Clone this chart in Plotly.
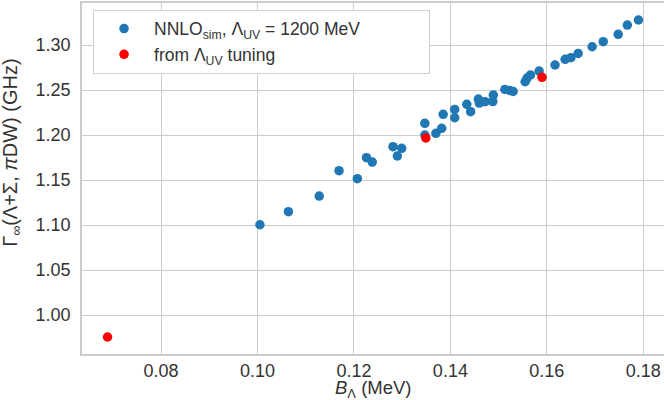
import plotly.graph_objects as go

# NNLO_sim points
b_sim = [0.1005, 0.1064, 0.1128, 0.1169, 0.1207, 0.1226, 0.1238, 0.1281, 0.1290, 0.1299,
         0.1347, 0.1347, 0.1370, 0.1382, 0.1385, 0.1409, 0.1409, 0.1434, 0.1442, 0.1458,
         0.1460, 0.1472, 0.1489, 0.1488, 0.1513, 0.1523, 0.1530, 0.1555, 0.1559, 0.1566,
         0.1584, 0.1617, 0.1638, 0.1650, 0.1665, 0.1694, 0.1717, 0.1748, 0.1767, 0.1790]
g_sim = [1.1003, 1.1148, 1.1322, 1.1604, 1.1515, 1.1748, 1.1700, 1.1870, 1.1767, 1.1852,
         1.2130, 1.2000, 1.2019, 1.2074, 1.2230, 1.2285, 1.2192, 1.2341, 1.2259, 1.2400,
         1.2355, 1.2370, 1.2444, 1.2372, 1.2507, 1.2495, 1.2484, 1.2592, 1.2633, 1.2667,
         1.2711, 1.2778, 1.2841, 1.2859, 1.2907, 1.2981, 1.3037, 1.3119, 1.3222, 1.3278]

# from Lambda_UV tuning
b_tune = [0.0689, 0.1349, 0.1590]
g_tune = [0.9756, 1.1967, 1.2641]

x_ticks = [0.08, 0.10, 0.12, 0.14, 0.16, 0.18]
y_ticks = [1.00, 1.05, 1.10, 1.15, 1.20, 1.25, 1.30]

FONT = "Liberation Sans, Arial, sans-serif"
TXT = "#333333"
GRID = "#cccccc"

fig = go.Figure()
fig.add_trace(go.Scatter(
    x=b_sim, y=g_sim, mode="markers",
    marker=dict(color="#1f77b4", size=9.5, line=dict(width=0)),
    name="NNLO<sub>sim</sub>, Λ<sub>UV</sub> = 1200 MeV" + "\u00a0" * 13))
fig.add_trace(go.Scatter(
    x=b_tune, y=g_tune, mode="markers",
    marker=dict(color="#ff0000", size=9.5, line=dict(width=0)),
    name="from Λ<sub>UV</sub> tuning"))

fig.update_layout(
    width=664, height=400,
    margin=dict(l=82, r=0, t=3, b=46, autoexpand=False),
    paper_bgcolor="white", plot_bgcolor="white",
    font=dict(family=FONT, size=18, color=TXT),
    showlegend=True,
    legend=dict(
        x=0.019, y=0.981, xanchor="left", yanchor="top",
        bgcolor="white", bordercolor="#d0d0d0", borderwidth=1,
        font=dict(family=FONT, size=17.5, color=TXT),
        itemwidth=50, tracegroupgap=0,
    ),
    annotations=[
        dict(text="Γ<sub>∞</sub>(Λ+Σ, <i>π</i>DW) (GHz)",
             xref="paper", yref="paper", x=-0.1203, y=0.573,
             xanchor="center", yanchor="middle", textangle=-90,
             showarrow=False, font=dict(family=FONT, size=20, color=TXT)),
        dict(text="<i>B</i><sub>Λ</sub> (MeV)",
             xref="paper", yref="paper", x=0.5, y=-0.100,
             xanchor="center", yanchor="middle",
             showarrow=False, font=dict(family=FONT, size=18.5, color=TXT)),
    ],
)
fig.update_xaxes(
    range=[0.0636, 0.1843],
    tickvals=x_ticks, ticktext=[f"{v:.2f}" for v in x_ticks],
    showgrid=True, gridcolor=GRID, gridwidth=1,
    showline=True, linecolor=GRID, linewidth=1.5, mirror=True,
    zeroline=False, ticks="", ticklen=0, ticklabelstandoff=0,
    automargin=False,
    tickfont=dict(family=FONT, size=18, color=TXT),
)
fig.update_yaxes(
    range=[0.9567, 1.3467],
    tickvals=y_ticks, ticktext=[f"{v:.2f}" for v in y_ticks],
    showgrid=True, gridcolor=GRID, gridwidth=1,
    showline=True, linecolor=GRID, linewidth=1.5, mirror=True,
    zeroline=False, ticks="", ticklen=0, ticklabelstandoff=6,
    automargin=False,
    tickfont=dict(family=FONT, size=18, color=TXT),
)

fig.write_html("out.html", config={"displayModeBar": False},
               post_script="document.body.style.margin='0px';")
